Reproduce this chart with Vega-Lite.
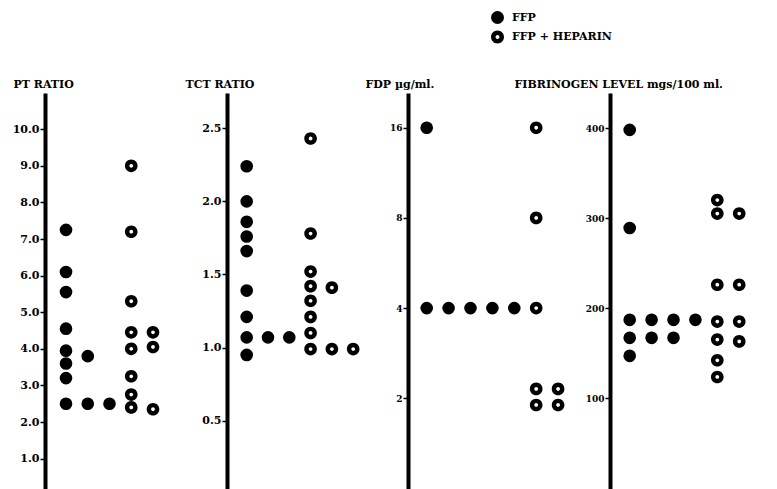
{
  "$schema": "https://vega.github.io/schema/vega-lite/v6.json",
  "padding": {"left": 12, "top": 11, "right": 0, "bottom": 0},
  "background": "white",
  "bounds": "flush",
  "spacing": 0,
  "data": {"values": [
    {"panel":"PT","group":"FFP","col":1,"value":7.25},
    {"panel":"PT","group":"FFP","col":1,"value":6.1},
    {"panel":"PT","group":"FFP","col":1,"value":5.55},
    {"panel":"PT","group":"FFP","col":1,"value":4.55},
    {"panel":"PT","group":"FFP","col":1,"value":3.95},
    {"panel":"PT","group":"FFP","col":1,"value":3.6},
    {"panel":"PT","group":"FFP","col":1,"value":3.2},
    {"panel":"PT","group":"FFP","col":1,"value":2.5},
    {"panel":"PT","group":"FFP","col":2,"value":3.8},
    {"panel":"PT","group":"FFP","col":2,"value":2.5},
    {"panel":"PT","group":"FFP","col":3,"value":2.5},
    {"panel":"PT","group":"FFP + HEPARIN","col":4,"value":9.0},
    {"panel":"PT","group":"FFP + HEPARIN","col":4,"value":7.2},
    {"panel":"PT","group":"FFP + HEPARIN","col":4,"value":5.3},
    {"panel":"PT","group":"FFP + HEPARIN","col":4,"value":4.45},
    {"panel":"PT","group":"FFP + HEPARIN","col":4,"value":4.0},
    {"panel":"PT","group":"FFP + HEPARIN","col":4,"value":3.25},
    {"panel":"PT","group":"FFP + HEPARIN","col":4,"value":2.75},
    {"panel":"PT","group":"FFP + HEPARIN","col":4,"value":2.4},
    {"panel":"PT","group":"FFP + HEPARIN","col":5,"value":4.45},
    {"panel":"PT","group":"FFP + HEPARIN","col":5,"value":4.05},
    {"panel":"PT","group":"FFP + HEPARIN","col":5,"value":2.35},
    {"panel":"TCT","group":"FFP","col":1,"value":2.24},
    {"panel":"TCT","group":"FFP","col":1,"value":2.0},
    {"panel":"TCT","group":"FFP","col":1,"value":1.86},
    {"panel":"TCT","group":"FFP","col":1,"value":1.76},
    {"panel":"TCT","group":"FFP","col":1,"value":1.66},
    {"panel":"TCT","group":"FFP","col":1,"value":1.39},
    {"panel":"TCT","group":"FFP","col":1,"value":1.21},
    {"panel":"TCT","group":"FFP","col":1,"value":1.07},
    {"panel":"TCT","group":"FFP","col":1,"value":0.95},
    {"panel":"TCT","group":"FFP","col":2,"value":1.07},
    {"panel":"TCT","group":"FFP","col":3,"value":1.07},
    {"panel":"TCT","group":"FFP + HEPARIN","col":4,"value":2.43},
    {"panel":"TCT","group":"FFP + HEPARIN","col":4,"value":1.78},
    {"panel":"TCT","group":"FFP + HEPARIN","col":4,"value":1.52},
    {"panel":"TCT","group":"FFP + HEPARIN","col":4,"value":1.42},
    {"panel":"TCT","group":"FFP + HEPARIN","col":4,"value":1.32},
    {"panel":"TCT","group":"FFP + HEPARIN","col":4,"value":1.21},
    {"panel":"TCT","group":"FFP + HEPARIN","col":4,"value":1.10},
    {"panel":"TCT","group":"FFP + HEPARIN","col":4,"value":0.99},
    {"panel":"TCT","group":"FFP + HEPARIN","col":5,"value":1.41},
    {"panel":"TCT","group":"FFP + HEPARIN","col":5,"value":0.99},
    {"panel":"TCT","group":"FFP + HEPARIN","col":6,"value":0.99},
    {"panel":"FDP","group":"FFP","col":1,"value":16},
    {"panel":"FDP","group":"FFP","col":1,"value":4},
    {"panel":"FDP","group":"FFP","col":2,"value":4},
    {"panel":"FDP","group":"FFP","col":3,"value":4},
    {"panel":"FDP","group":"FFP","col":4,"value":4},
    {"panel":"FDP","group":"FFP","col":5,"value":4},
    {"panel":"FDP","group":"FFP + HEPARIN","col":6,"value":16},
    {"panel":"FDP","group":"FFP + HEPARIN","col":6,"value":8},
    {"panel":"FDP","group":"FFP + HEPARIN","col":6,"value":4},
    {"panel":"FDP","group":"FFP + HEPARIN","col":6,"value":2.15},
    {"panel":"FDP","group":"FFP + HEPARIN","col":6,"value":1.9},
    {"panel":"FDP","group":"FFP + HEPARIN","col":7,"value":2.15},
    {"panel":"FDP","group":"FFP + HEPARIN","col":7,"value":1.9},
    {"panel":"FIB","group":"FFP","col":1,"value":398},
    {"panel":"FIB","group":"FFP","col":1,"value":289},
    {"panel":"FIB","group":"FFP","col":1,"value":187},
    {"panel":"FIB","group":"FFP","col":1,"value":167},
    {"panel":"FIB","group":"FFP","col":1,"value":147},
    {"panel":"FIB","group":"FFP","col":2,"value":187},
    {"panel":"FIB","group":"FFP","col":2,"value":167},
    {"panel":"FIB","group":"FFP","col":3,"value":187},
    {"panel":"FIB","group":"FFP","col":3,"value":167},
    {"panel":"FIB","group":"FFP","col":4,"value":187},
    {"panel":"FIB","group":"FFP + HEPARIN","col":5,"value":320},
    {"panel":"FIB","group":"FFP + HEPARIN","col":5,"value":305},
    {"panel":"FIB","group":"FFP + HEPARIN","col":5,"value":226},
    {"panel":"FIB","group":"FFP + HEPARIN","col":5,"value":185},
    {"panel":"FIB","group":"FFP + HEPARIN","col":5,"value":165},
    {"panel":"FIB","group":"FFP + HEPARIN","col":5,"value":142},
    {"panel":"FIB","group":"FFP + HEPARIN","col":5,"value":123.5},
    {"panel":"FIB","group":"FFP + HEPARIN","col":6,"value":305},
    {"panel":"FIB","group":"FFP + HEPARIN","col":6,"value":226},
    {"panel":"FIB","group":"FFP + HEPARIN","col":6,"value":185},
    {"panel":"FIB","group":"FFP + HEPARIN","col":6,"value":163}
  ]},
  "resolve": {"scale": {"shape": "independent"}, "legend": {"shape": "independent"}},
  "hconcat": [
    {
      "width": 182, "height": 396,
      "transform": [{"filter": "datum.panel === 'PT'"}],
      "mark": {"type": "point", "filled": true, "color": "black", "opacity": 1, "size": 160, "strokeWidth": 0},
      "encoding": {
        "x": {"field": "col", "type": "quantitative", "axis": null, "scale": {"domain": [0.0345, 8.402], "nice": false, "zero": false}},
        "y": {"field": "value", "type": "quantitative",
              "scale": {"domain": [0.17, 10.99], "nice": false, "zero": false},
              "axis": {"title": "PT RATIO", "titleX": -32, "titleY": -6, "values": [1,2,3,4,5,6,7,8,9,10], "format": ".1f", "labelFontSize": 11}},
        "shape": {"field": "group", "type": "nominal",
                  "scale": {"domain": ["FFP", "FFP + HEPARIN"], "range": ["circle", "M-1,0A1,1,0,1,0,1,0A1,1,0,1,0,-1,0ZM-0.3,0A0.3,0.3,0,1,1,0.3,0A0.3,0.3,0,1,1,-0.3,0Z"]},
                  "legend": {"title": null, "orient": "none", "legendX": 446, "legendY": -82, "padding": 0, "symbolSize": 169, "symbolFillColor": "black", "symbolStrokeWidth": 0, "symbolOpacity": 1, "labelFont": "DejaVu Serif", "labelFontWeight": "bold", "labelFontSize": 11, "labelColor": "black", "labelOffset": 8, "rowPadding": 6.5}}
      }
    },
    {
      "width": 181, "height": 396,
      "transform": [{"filter": "datum.panel === 'TCT'"}],
      "mark": {"type": "point", "filled": true, "color": "black", "opacity": 1, "size": 160, "strokeWidth": 0},
      "encoding": {
        "x": {"field": "col", "type": "quantitative", "axis": null, "scale": {"domain": [0.0751, 8.573], "nice": false, "zero": false}},
        "y": {"field": "value", "type": "quantitative",
              "scale": {"domain": [0.033, 2.741], "nice": false, "zero": false},
              "axis": {"title": "TCT RATIO", "titleX": -42, "titleY": -6, "values": [0.5,1.0,1.5,2.0,2.5], "format": ".1f", "labelFontSize": 11}},
        "shape": {"field": "group", "type": "nominal", "legend": null,
                  "scale": {"domain": ["FFP", "FFP + HEPARIN"], "range": ["circle", "M-1,0A1,1,0,1,0,1,0A1,1,0,1,0,-1,0ZM-0.3,0A0.3,0.3,0,1,1,0.3,0A0.3,0.3,0,1,1,-0.3,0Z"]}}
      }
    },
    {
      "width": 202, "height": 396,
      "transform": [{"filter": "datum.panel === 'FDP'"}],
      "mark": {"type": "point", "filled": true, "color": "black", "opacity": 1, "size": 160, "strokeWidth": 0},
      "encoding": {
        "x": {"field": "col", "type": "quantitative", "axis": null, "scale": {"domain": [0.1461, 9.370], "nice": false, "zero": false}},
        "y": {"field": "value", "type": "quantitative",
              "scale": {"type": "log", "base": 2, "domain": [0.996, 20.9], "nice": false},
              "axis": {"title": "FDP µg/ml.", "titleX": -43, "titleY": -6, "values": [2,4,8,16], "format": "d", "labelFontSize": 9}},
        "shape": {"field": "group", "type": "nominal", "legend": null,
                  "scale": {"domain": ["FFP", "FFP + HEPARIN"], "range": ["circle", "M-1,0A1,1,0,1,0,1,0A1,1,0,1,0,-1,0ZM-0.3,0A0.3,0.3,0,1,1,0.3,0A0.3,0.3,0,1,1,-0.3,0Z"]}}
      }
    },
    {
      "width": 160, "height": 396,
      "transform": [{"filter": "datum.panel === 'FIB'"}],
      "mark": {"type": "point", "filled": true, "color": "black", "opacity": 1, "size": 160, "strokeWidth": 0},
      "encoding": {
        "x": {"field": "col", "type": "quantitative", "axis": null, "scale": {"domain": [0.1005, 7.406], "nice": false, "zero": false}},
        "y": {"field": "value", "type": "quantitative",
              "scale": {"domain": [-1, 439], "nice": false, "zero": false},
              "axis": {"title": "FIBRINOGEN LEVEL mgs/100 ml.", "titleX": -96, "titleY": -6, "values": [100,200,300,400], "format": "d", "labelFontSize": 9}},
        "shape": {"field": "group", "type": "nominal", "legend": null,
                  "scale": {"domain": ["FFP", "FFP + HEPARIN"], "range": ["circle", "M-1,0A1,1,0,1,0,1,0A1,1,0,1,0,-1,0ZM-0.3,0A0.3,0.3,0,1,1,0.3,0A0.3,0.3,0,1,1,-0.3,0Z"]}}
      }
    }
  ],
  "config": {
    "view": {"stroke": null},
    "axis": {
      "grid": false,
      "domainColor": "black", "domainWidth": 4,
      "tickColor": "black", "tickWidth": 1.5, "tickSize": 5,
      "labelFont": "DejaVu Serif", "labelFontWeight": "bold", "labelColor": "black", "labelPadding": 1,
      "titleFont": "DejaVu Serif", "titleFontWeight": "bold", "titleFontSize": 11, "titleColor": "black",
      "titleAngle": 0, "titleAlign": "left", "titleBaseline": "alphabetic", "titleAnchor": null
    }
  }
}
